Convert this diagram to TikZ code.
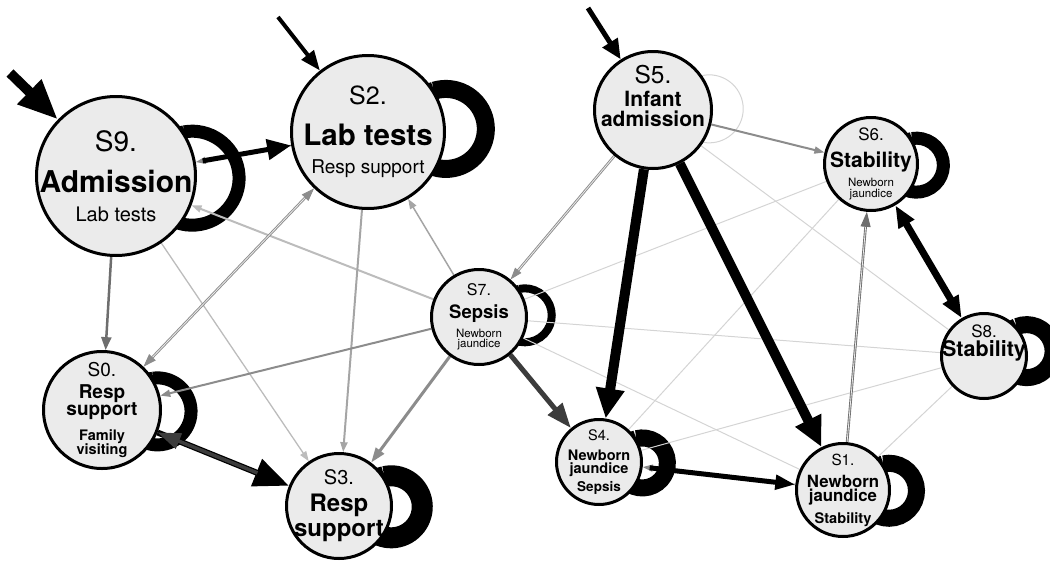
\documentclass[tikz,border=0pt]{standalone}
\usepackage{fontspec}
\setmainfont{TeX Gyre Heros}
\usetikzlibrary{arrows.meta}
\pgfdeclarelayer{background}
\pgfsetlayers{background,main}
\definecolor{statefill}{RGB}{235,235,235}
\definecolor{faintgray}{RGB}{212,212,212}
\definecolor{palegray}{RGB}{188,188,188}
\definecolor{midgray}{RGB}{165,165,165}
\definecolor{stonegray}{RGB}{140,140,140}
\definecolor{slategray}{RGB}{110,110,110}
\definecolor{coalgray}{RGB}{60,60,60}
\newcommand{\fz}[1]{\fontsize{#1}{#1}\selectfont}
\begin{document}
\begin{tikzpicture}[x=1pt,y=1pt]
	\tikzstyle{every node}+=[inner sep=0pt]
	\tikzstyle{state}=[circle, draw=black, line width=3pt, fill=statefill]
	\tikzstyle{caption}=[align=center, inner sep=0pt, font=\fontsize{10}{0}\selectfont]
	\tikzstyle{selfloop}=[black]
	\tikzstyle{faint}=[faintgray, line width=1pt]
	\tikzstyle{link}=[-{Triangle[length=10pt,width=7pt]}]
	\tikzstyle{twin}=[double=statefill, double distance=0.8pt, line width=0.9pt]
	\useasboundingbox (0,0) rectangle (1050,-563);
	\clip (0,0) rectangle (1050,-563);
	\node [state, minimum size=159pt, label={[caption]center:{\fz{28}S9.\\[17pt]\fz{30}\bfseries Admission\\[13pt]\fz{20}Lab tests}}] (S9) at (116,-176) {};
	\node [state, minimum size=153pt, label={[caption]center:{\fz{25}S2.\\[17.5pt]\fz{29.5}\bfseries Lab tests\\[13.5pt]\fz{19}Resp support}}] (S2) at (368,-132) {};
	\node [state, minimum size=117pt, label={[caption, text depth=28pt]center:{\fz{24.5}S5.\\[6pt]\fz{21}\bfseries Infant\\[3pt]\fz{21}\bfseries admission}}] (S5) at (653,-110) {};
	\node [state, minimum size=93pt, label={[caption]center:{\fz{17}S6.\\[10pt]\fz{21}\bfseries Stability\\[5.4pt]\fz{11.5}Newborn\\[1.2pt]\fz{11.5}jaundice}}] (S6) at (871,-164) {};
	\node [state, minimum size=95pt, label={[caption]center:{\fz{16}S7.\\[8pt]\fz{18.5}\bfseries Sepsis\\[5.2pt]\fz{11.5}Newborn\\[0.7pt]\fz{11.5}jaundice}}] (S7) at (479,-317) {};
	\node [state, minimum size=117pt, label={[caption]center:{\fz{19}S0.\\[7pt]\fz{19}\bfseries Resp\\[-1pt]\fz{19}\bfseries support\\[8.5pt]\fz{14.5}\bfseries Family\\[-0.6pt]\fz{14.5}\bfseries visiting}}] (S0) at (102,-410) {};
	\node [state, minimum size=105pt, label={[caption]center:{\fz{20}S3.\\[7.8pt]\fz{24}\bfseries Resp\\[3pt]\fz{24}\bfseries support}}] (S3) at (339,-506) {};
	\node [state, minimum size=85pt, label={[caption]center:{\fz{14.5}S4.\\[8pt]\fz{14.5}\bfseries Newborn\\[1.5pt]\fz{14.5}\bfseries jaundice\\[3.2pt]\fz{13.5}\bfseries Sepsis}}] (S4) at (599,-462) {};
	\node [state, minimum size=93pt, label={[caption]center:{\fz{15.3}S1.\\[8.6pt]\fz{16.8}\bfseries Newborn\\[1.2pt]\fz{16.8}\bfseries jaundice\\[5.7pt]\fz{14.6}\bfseries Stability}}] (S1) at (843,-490) {};
	\node [state, minimum size=85pt, label={[caption, text depth=31pt]center:{\fz{17}S8.\\[2pt]\fz{21.5}\bfseries Stability}}] (S8) at (984,-356) {};
	\coordinate (i9) at (10,-73);
	\coordinate (i2) at (278,-17);
	\coordinate (i5) at (588,-8);
	\begin{pgfonlayer}{background}
	\draw [black, line width=10pt, -{Triangle[length=40pt,width=32pt]}] (i9) -- (S9);
	\draw [black, line width=4pt, -{Triangle[length=20pt,width=15pt]}] (i2) -- (S2);
	\draw [black, line width=5pt, -{Triangle[length=20pt,width=17pt]}] (i5) -- (S5);
	\draw [selfloop, line width=13pt] (S9.33) arc[start angle=100, delta angle=-360, radius=47];
	\draw [selfloop, line width=18pt] (S2.32) arc[start angle=107, delta angle=-360, radius=40];
	\draw [faintgray, line width=1pt] (S5.35) arc[start angle=102, delta angle=-360, radius=34];
	\draw [selfloop, line width=13pt] (S6.32) arc[start angle=100, delta angle=-360, radius=27];
	\draw [selfloop, line width=8pt] (S7.35) arc[start angle=102, delta angle=-360, radius=27];
	\draw [selfloop, line width=13pt] (S0.32) arc[start angle=98, delta angle=-360, radius=33.5];
	\draw [selfloop, line width=21pt] (S3.33) arc[start angle=103, delta angle=-360, radius=31];
	\draw [selfloop, line width=17pt] (S4.32) arc[start angle=104, delta angle=-360, radius=25];
	\draw [selfloop, line width=17pt] (S1.33) arc[start angle=102, delta angle=-360, radius=27.5];
	\draw [selfloop, line width=17pt] (S8.42) arc[start angle=112, delta angle=-360, radius=26.5];
	\draw [faint] (S5) -- (S8);
	\draw [faint] (S7) -- (S6);
	\draw [faint] (S7) -- (S8);
	\draw [faint] (S7) -- (S1);
	\draw [faint] (S4) -- (S6);
	\draw [faint] (S4) -- (S8);
	\draw [faint] (S1) -- (S8);
	\draw [link, palegray, line width=2pt] (S7) -- (S9);
	\draw [link, palegray, line width=1.3pt] (S9) -- (S3);
	\draw [link, midgray, line width=1.5pt] (S7) -- (S2);
	\draw [link, midgray, line width=2pt] (S2) -- (S3);
	\draw [link, stonegray, line width=2pt] (S7) -- (S0);
	\draw [link, stonegray, line width=2pt] (S5) -- (S6);
	\draw [link, slategray, line width=2.5pt, -{Triangle[length=13pt,width=10pt]}] (S9) -- (S0);
	\draw [link, stonegray, line width=3pt, -{Triangle[length=15pt,width=10pt]}] (S7) -- (S3);
	\draw [twin, stonegray, -{Triangle[length=12pt,width=8pt]}] (S5) -- (S7);
	\draw [twin, slategray, -{Triangle[length=15pt,width=10pt]}] (S1) -- (S6);
	\draw [twin, stonegray, {Triangle[length=13pt,width=9pt]}-{Triangle[length=13pt,width=9pt]}] (S0) -- (S2);
	\draw [link, stonegray, line width=1.5pt] (S2) -- (S9);
	\draw [black, line width=5pt, shorten <=7pt, -{Triangle[length=24pt,width=20pt]}] (S9) -- (S2);
	\draw [link, stonegray, line width=1.5pt] (S1) -- (S4);
	\draw [black, line width=5pt, shorten <=7pt, -{Triangle[length=20pt,width=14pt]}] (S4) -- (S1);
	\draw [black, line width=6pt, -{Triangle[length=35pt,width=28pt]}] (S0) -- (S3);
	\draw [coalgray, line width=3.5pt, shorten <=34pt, -{Triangle[length=23pt,width=16pt]}] (S3) -- (S0);
	\draw [coalgray, line width=5pt, -{Triangle[length=25pt,width=18pt]}] (S7) -- (S4);
	\draw [black, line width=10pt, -{Triangle[length=30pt,width=27pt]}] (S5) -- (S4);
	\draw [black, line width=10pt, -{Triangle[length=30pt,width=27pt]}] (S5) -- (S1);
	\draw [black, line width=7pt, {Triangle[length=22pt,width=17pt]}-{Triangle[length=22pt,width=17pt]}] (S6) -- (S8);
	\end{pgfonlayer}
\end{tikzpicture}
\end{document}
